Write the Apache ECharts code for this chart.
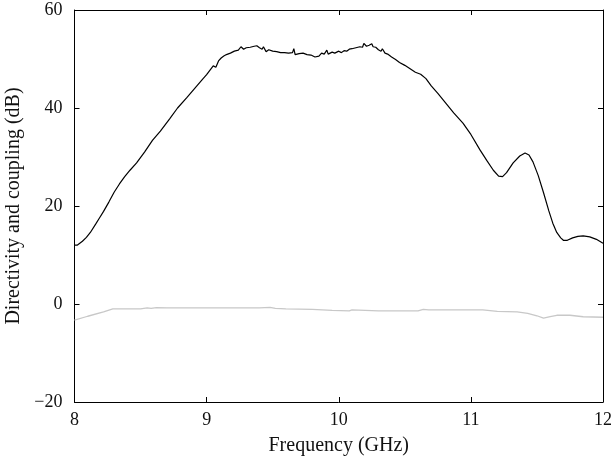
<!DOCTYPE html>
<html>
<head>
<meta charset="utf-8">
<script src="https://cdn.jsdelivr.net/npm/echarts@6/dist/echarts.min.js"></script>
<style>html,body{margin:0;padding:0;background:#fff}#c{width:613px;height:462px}</style>
</head>
<body>
<div id="c"></div>
<script>
// Directivity (black) – frequency in GHz, value in dB
const dirFreq = [8.00,8.02,8.06,8.09,8.12,8.16,8.19,8.22,8.26,8.30,8.34,8.38,8.42,8.47,8.53,8.59,8.65,8.72,8.78,8.85,8.91,8.97,
  9.00,9.03,9.05,9.07,9.09,9.11,9.13,9.15,9.18,9.21,9.24,9.26,9.28,9.30,9.33,9.36,9.38,9.40,9.42,9.43,9.45,9.47,9.50,9.53,9.56,9.59,9.62,9.65,9.66,9.67,9.70,9.73,9.76,9.79,9.82,9.85,9.87,9.89,9.91,9.92,9.95,9.97,10.00,10.02,10.04,10.06,10.08,10.10,10.13,10.16,10.18,10.19,10.21,10.23,10.25,10.26,10.28,10.30,10.32,10.33,10.35,10.37,10.40,10.43,10.46,10.50,10.54,10.58,10.62,10.66,10.70,
  10.75,10.81,10.87,10.94,11.00,11.07,11.12,11.17,11.21,11.24,11.27,11.32,11.37,11.41,11.44,11.47,11.51,11.55,11.59,11.62,11.65,11.68,11.70,11.73,11.77,11.81,11.85,11.90,11.95,12.00];
const dirVal = [12.0,12.0,12.8,13.6,14.6,16.3,17.6,18.9,20.8,22.8,24.5,26.0,27.3,28.8,31.0,33.4,35.3,37.8,40.0,42.1,44.0,45.9,
  46.8,47.9,48.6,48.3,49.6,50.2,50.6,50.9,51.2,51.6,51.8,52.5,52.0,52.3,52.4,52.6,52.7,52.3,52.0,52.5,51.5,51.9,51.6,51.5,51.3,51.3,51.2,51.3,52.1,50.9,51.1,51.2,50.9,50.8,50.4,50.6,51.2,51.0,51.8,51.0,51.4,51.2,51.6,51.3,51.7,51.6,52.0,52.1,52.3,52.5,52.4,53.2,52.6,52.8,53.1,52.5,52.4,51.9,51.6,52.1,51.2,51.0,50.4,49.9,49.3,48.7,48.0,47.3,46.9,46.0,44.5,
  43.0,41.0,39.0,36.9,34.6,31.4,29.3,27.3,26.1,26.0,26.8,28.8,30.2,30.8,30.4,29.0,26.2,22.7,19.0,16.5,14.6,13.5,13.0,13.0,13.5,13.8,13.9,13.7,13.2,12.4];
// Coupling (grey)
const cplFreq = [8.00,8.10,8.22,8.29,8.40,8.50,8.55,8.58,8.62,8.70,8.85,9.00,9.20,9.40,9.48,9.52,9.60,9.80,9.95,10.08,10.10,10.30,10.60,10.64,10.68,10.90,11.09,11.20,11.35,11.43,11.50,11.55,11.60,11.65,11.75,11.85,12.00];
const cplVal  = [-3.3,-2.5,-1.6,-1.0,-1.0,-1.0,-0.8,-0.9,-0.75,-0.8,-0.8,-0.8,-0.8,-0.8,-0.7,-0.9,-1.0,-1.1,-1.3,-1.4,-1.2,-1.4,-1.4,-1.1,-1.2,-1.2,-1.2,-1.5,-1.6,-1.9,-2.4,-2.9,-2.6,-2.3,-2.3,-2.6,-2.7];
const xTicks = [8, 9, 10, 11, 12];
const yTicks = [-20, 0, 20, 40, 60];

const font = "'Liberation Serif','DejaVu Serif',serif";
const fmt = v => String(v).replace('-', '\u2212');
const pairs = (xs, ys) => xs.map((x, i) => [x, ys[i]]);

const chart = echarts.init(document.getElementById('c'), null, {renderer: 'canvas'});
const axisCommon = () => ({
  axisLine: {show: true, onZero: false, lineStyle: {color: '#000', width: 1}},
  axisTick: {show: true, inside: true, length: 5, lineStyle: {color: '#000'}},
  splitLine: {show: false}
});
chart.setOption({
  animation: false,
  backgroundColor: '#fff',
  grid: {left: 74.5, right: 10, top: 10, bottom: 60, containLabel: false, outerBoundsMode: 'none'},
  xAxis: [
    Object.assign({type: 'value', min: xTicks[0], max: xTicks[xTicks.length-1], interval: 1, position: 'bottom',
      name: 'Frequency (GHz)', nameLocation: 'middle', nameGap: 34,
      nameTextStyle: {fontFamily: font, fontSize: 20, color: '#111'},
      axisLabel: {fontFamily: font, fontSize: 18, color: '#111', margin: 9, formatter: fmt}}, axisCommon()),
    Object.assign({type: 'value', min: 8, max: 12, interval: 1, position: 'top', axisLabel: {show: false}}, axisCommon())
  ],
  yAxis: [
    Object.assign({type: 'value', min: yTicks[0], max: yTicks[yTicks.length-1], interval: 20, position: 'left',
      name: 'Directivity and coupling (dB)', nameLocation: 'middle', nameGap: 47,
      nameTextStyle: {fontFamily: font, fontSize: 20, color: '#111'},
      axisLabel: {fontFamily: font, fontSize: 18, color: '#111', margin: 12, formatter: fmt}}, axisCommon()),
    Object.assign({type: 'value', min: -20, max: 60, interval: 20, position: 'right', axisLabel: {show: false}}, axisCommon())
  ],
  series: [
    {type: 'line', data: pairs(cplFreq, cplVal), showSymbol: false, smooth: false,
      lineStyle: {color: '#c8c8c8', width: 1.3}},
    {type: 'line', data: pairs(dirFreq, dirVal), showSymbol: false, smooth: false,
      lineStyle: {color: '#000', width: 1.2}}
  ]
});
</script>
</body>
</html>
